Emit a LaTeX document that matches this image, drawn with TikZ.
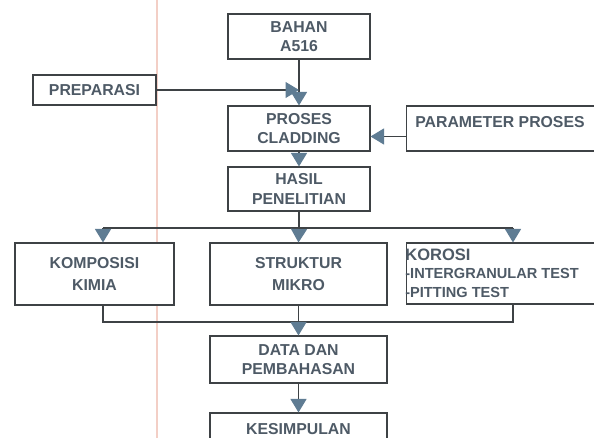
\documentclass[tikz,border=0pt]{standalone}
\usepackage{fontspec}
\setmainfont{Liberation Sans}
\usetikzlibrary{arrows.meta,calc}
\definecolor{garis}{HTML}{3E4245}
\definecolor{panahbiru}{HTML}{5F7C93}
\definecolor{tulisan}{HTML}{4E5A66}
\definecolor{margin}{HTML}{F3CFC6}
\begin{document}
\begin{tikzpicture}[x=0.02cm, y=-0.02cm, font=\fontsize{9}{11}\selectfont\bfseries, line join=miter,
	kotak/.style={draw=garis, line width=0.6pt, fill=white, text=tulisan, align=center, inner sep=0pt, minimum width=2.84cm, minimum height=0.9cm},
	tulis/.style={text=tulisan, align=left, inner sep=0pt, anchor=west},
	panah/.style={draw=garis, line width=0.6pt, -{Triangle[width=0.32cm, length=0.27cm, color=panahbiru, fill=panahbiru]}},
	sambung/.style={draw=garis, line width=0.6pt}]
	
	\useasboundingbox (0,0) rectangle (594,438);
	\clip (0,0) rectangle (594,438);
	\fill[white] (0,0) rectangle (594,438);
	
	% Garis margin kertas
	\draw[margin, line width=1.2pt] (157,0) -- (157,438);
	
	% Bahan dan proses
	\node[kotak] (bahan) at (299, 36.5) {BAHAN\\A516};
	\node[kotak, minimum width=2.46cm, minimum height=0.6cm] (prep) at (94.5, 90) {PREPARASI};
	\node[kotak] (proses) at (299, 128.5) {PROSES\\CLADDING};
	\node[kotak, minimum width=4.28cm] (param) at (513, 128.5) {};
	\node[tulis] (paramtxt) at (415, 122) {PARAMETER PROSES};
	\node[kotak, minimum height=0.88cm] (hasil) at (299, 189) {HASIL\\PENELITIAN};
	
	\coordinate (temu) at (prep.east -| bahan.south);
	\draw[panah] (bahan.south) -- (proses.north);
	\draw[panah] (prep.east) -- (temu);
	\draw[panah] ($(param.west)+(0,8)$) -- ($(proses.east)+(0,8)$);
	\draw[panah] (proses.south) -- (hasil.north);
	
	% Pengujian
	\node[kotak, minimum width=3.18cm, minimum height=1.24cm] (komp) at (94.5, 274) {KOMPOSISI\\[2pt]KIMIA};
	\node[kotak, minimum width=3.54cm, minimum height=1.24cm] (struk) at (298.5, 274) {STRUKTUR\\[2pt]MIKRO};
	\node[kotak, minimum width=4.28cm, minimum height=1.22cm] (korosi) at (513, 273.5) {};
	\node[tulis, font=\fontsize{8.3}{10.6}\selectfont\bfseries] (korositxt) at (405, 273) {{\fontsize{9.4}{10.6}\selectfont KOROSI}\\-INTERGRANULAR TEST\\-PITTING TEST};
	
	\coordinate (cabang) at (299, 228);
	\coordinate (kiri) at (103, 228);
	\coordinate (kanan) at (513, 228);
	\draw[sambung] (hasil.south) -- (cabang);
	\draw[sambung] (kiri) -- (kanan);
	\draw[panah] (kiri) -- (kiri |- komp.north);
	\draw[panah] (cabang) -- (struk.north);
	\draw[panah] (kanan) -- (korosi.north);
	
	% Data dan kesimpulan
	\node[kotak, minimum width=3.54cm, minimum height=0.94cm] (data) at (298.5, 359.5) {DATA DAN\\PEMBAHASAN};
	\node[kotak, minimum width=3.54cm, minimum height=0.94cm, text depth=0.3cm] (simpul) at (298.5, 436.5) {KESIMPULAN};
	
	\coordinate (kiri2) at (103, 322);
	\coordinate (kanan2) at (513, 322);
	\draw[sambung] (kiri2 |- komp.south) -- (kiri2) -- (kanan2) -- (kanan2 |- korosi.south);
	\draw[panah] (struk.south) -- (data.north);
	\draw[panah] (data.south) -- (simpul.north);
	
\end{tikzpicture}
\end{document}
